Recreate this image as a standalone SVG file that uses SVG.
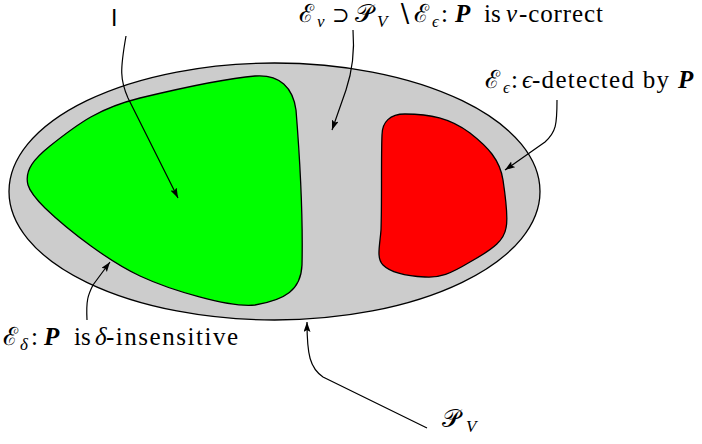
<svg xmlns="http://www.w3.org/2000/svg" width="702" height="444" viewBox="0 0 702 444">
<defs>
<marker id="ah" markerUnits="userSpaceOnUse" markerWidth="12" markerHeight="8" refX="10" refY="3.5" orient="auto" viewBox="0 0 12 8">
<path d="M0,0 L10,3.5 L0,7 L2,3.5 Z" fill="#000"/>
</marker>
</defs>
<style>
.shape{stroke:#000;stroke-width:1.3}
.conn{fill:none;stroke:#000;stroke-width:1.2;marker-end:url(#ah)}
.sub{font-size:17px}
.it{font-style:italic}
.bi{font-style:italic;font-weight:bold}
</style>
<g id="PV">
<ellipse class="shape" cx="274.5" cy="191.5" rx="265.5" ry="128.5" fill="#cccccc"/>
</g>
<g id="E_delta">
<path class="shape" fill="#00ff00" d="M28,185 C24,170 35,158 50,146 C80,122 100,108 140,98 C190,86 230,78 255,76 C280,74 293,88 296,110 C300,160 303,220 302,265 C301,290 285,300 255,305 C230,308 170,290 140,276 C110,262 70,232 45,208 C35,198 30,192 28,185 Z"/>
</g>
<g id="E_epsilon">
<path class="shape" fill="#ff0000" d="M382,135 C382,122 390,114 405,114 C430,114 450,118 470,133 C488,147 500,160 503,180 C506,200 508,220 506,228 C504,240 495,248 470,262 C450,274 440,278 425,277 C405,276 390,272 383,265 C376,258 380,245 381,230 C382,200 381,160 382,135 Z"/>
</g>
<g id="connectors">
<path class="conn" d="M126,36 C120,70 120,80 128,98 L178,198"/>
<path class="conn" d="M353,30 C355,55 351,75 346,90 L332,130"/>
<path class="conn" d="M557,100 C557,125 556,132 545,142 L505,170"/>
<path class="conn" d="M87,320 C86,300 88,295 93,285 L110,262"/>
<path class="conn" d="M427,428 L323,377 C310,368 307,355 307,322"/>
</g>
<g id="label-I">
<text x="111" y="26" font-family="Liberation Sans, Arial, sans-serif" font-size="23">I</text>
</g>
<g id="label-nu">
<text font-family="Liberation Serif, DejaVu Serif, serif" font-size="25"><tspan x="299" y="22">ℰ</tspan><tspan class="it sub" x="317" y="27">ν</tspan><tspan x="332" y="22" font-size="21">⊃</tspan><tspan x="355" y="22">𝒫</tspan><tspan class="it sub" x="377" y="27">V</tspan><tspan x="396" y="22">∖</tspan><tspan x="414" y="22">ℰ</tspan><tspan class="it sub" x="432" y="27">ϵ</tspan><tspan x="441" y="22">:</tspan><tspan class="bi" x="455" y="22">P</tspan><tspan x="484" y="22">is</tspan><tspan class="it" x="506" y="22">ν</tspan><tspan x="519" y="22" textLength="84" lengthAdjust="spacing">-correct</tspan></text>
</g>
<g id="label-eps">
<text font-family="Liberation Serif, DejaVu Serif, serif" font-size="25"><tspan x="485" y="88">ℰ</tspan><tspan class="it sub" x="503" y="93">ϵ</tspan><tspan x="511" y="88">:</tspan><tspan class="it" x="522" y="88">ϵ</tspan><tspan x="532" y="88" textLength="137" lengthAdjust="spacing">-detected by</tspan><tspan class="bi" x="678" y="88">P</tspan></text>
</g>
<g id="label-delta">
<text font-family="Liberation Serif, DejaVu Serif, serif" font-size="25"><tspan x="3" y="345">ℰ</tspan><tspan class="it sub" x="20" y="350">δ</tspan><tspan x="31" y="345">:</tspan><tspan class="bi" x="44" y="345">P</tspan><tspan x="74" y="345">is</tspan><tspan class="it" x="95" y="345">δ</tspan><tspan x="106" y="345" textLength="132" lengthAdjust="spacing">-insensitive</tspan></text>
</g>
<g id="label-PV">
<text font-family="Liberation Serif, DejaVu Serif, serif" font-size="25"><tspan x="442" y="427">𝒫</tspan><tspan class="it sub" x="466" y="432">V</tspan></text>
</g>
</svg>
